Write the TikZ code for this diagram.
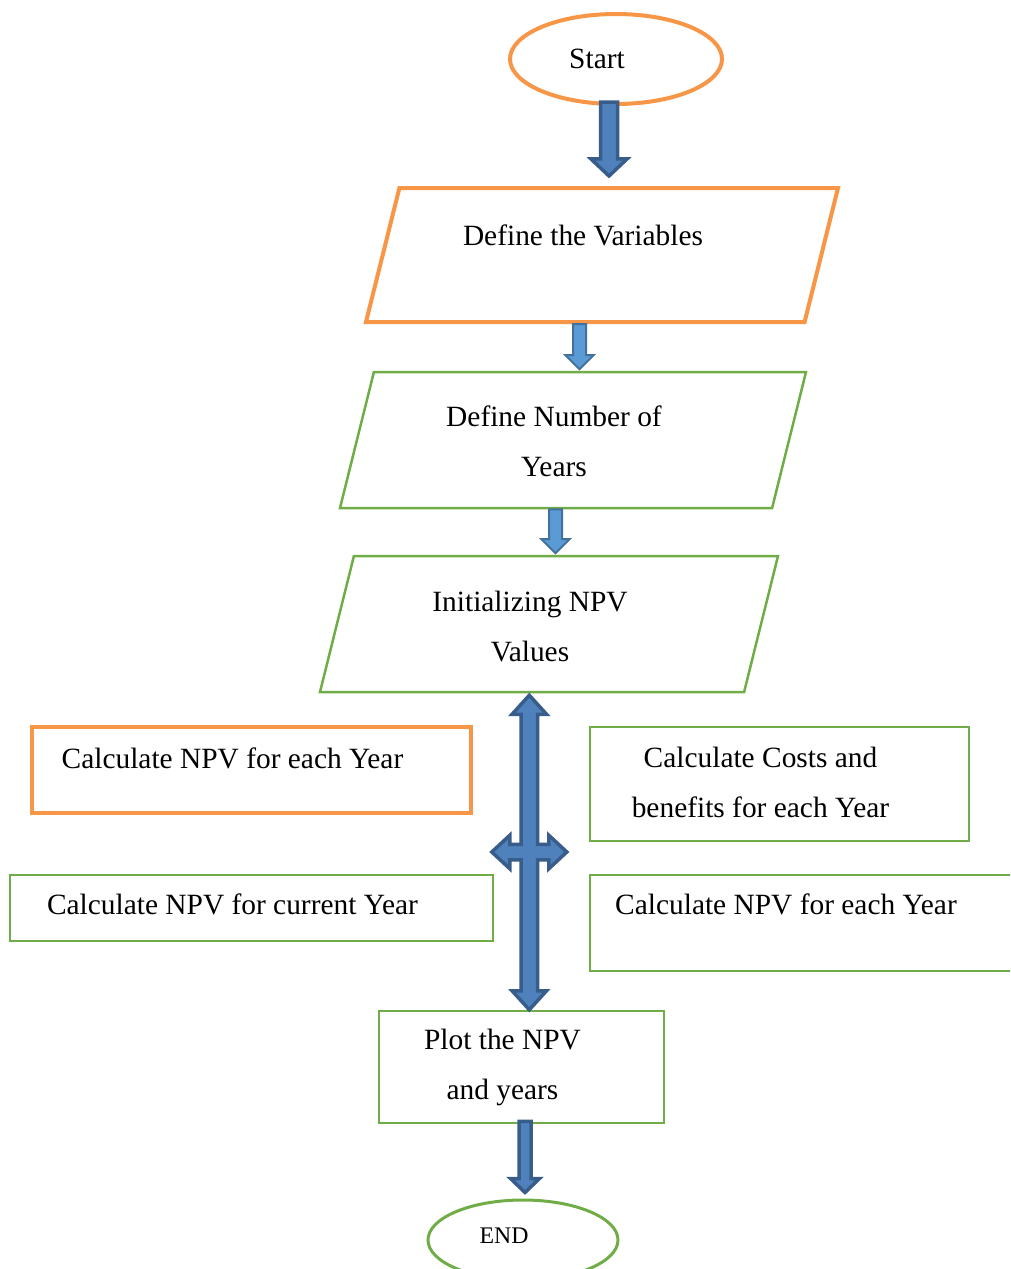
\documentclass[tikz,border=0pt]{standalone}
\usepackage{fontspec}
\setmainfont{Liberation Serif}
\usetikzlibrary{shapes.geometric,calc}

\definecolor{floworange}{HTML}{F79646}
\definecolor{flowgreen}{HTML}{70AD47}
\definecolor{arrdark}{HTML}{385D8A}
\definecolor{arrdarkfill}{HTML}{4F81BD}
\definecolor{arrlight}{HTML}{41719C}
\definecolor{arrlightfill}{HTML}{5B9BD5}

\tikzset{
  orangeline/.style={draw=floworange, line width=4},
  greenline/.style={draw=flowgreen, line width=2.5},
  flowpara/.style={trapezium, trapezium left angle=76, trapezium right angle=104},
  flowoval/.style={ellipse, inner sep=0},
  flowrect/.style={rectangle, inner sep=0},
  every label/.style={font=\fontsize{29.4}{50}\selectfont, align=center, xshift=-19, inner sep=0},
  blockarrow/.style n args={3}{to path={
    let \p1=(\tikztostart), \p2=(\tikztotarget) in
    (\x1-#1pt,\y1) -- (\x1+#1pt,\y1) -- (\x1+#1pt,\y2+#3pt) -- (\x1+#2pt,\y2+#3pt)
    -- (\x1,\y2) -- (\x1-#2pt,\y2+#3pt) -- (\x1-#1pt,\y2+#3pt) -- cycle}},
  darkarrow/.style={draw=arrdark, fill=arrdarkfill, line width=3.5},
  lightarrow/.style={draw=arrlight, fill=arrlightfill, line width=2},
}

\begin{document}
\begin{tikzpicture}[x=1pt,y=-1pt]
    \useasboundingbox (0,0) rectangle (1010,1269);
    \clip (0,0) rectangle (1010,1269);

    % main column
    \node[flowoval, orangeline, minimum width=212, minimum height=90, label=center:Start] (start) at (616,59) {};
    \node[flowpara, orangeline, inner xsep=202.6, inner ysep=67,
      label={[yshift=20]center:Define the Variables}] (vars) at (602,255) {};
    \node[flowpara, greenline, inner xsep=199.1, inner ysep=68,
      label={[yshift=-1]center:Define Number of\\Years}] (years) at (573,440) {};
    \node[flowpara, greenline, inner xsep=195.1, inner ysep=68,
      label={[yshift=-3]center:Initializing NPV\\Values}] (init) at (549,624) {};

    % side boxes
    \node[flowrect, orangeline, minimum width=439, minimum height=86,
      label={[yshift=12]center:Calculate NPV for each Year}] (npveach) at (251.5,770) {};
    \node[flowrect, greenline, minimum width=379, minimum height=114,
      label={[yshift=2]center:Calculate Costs and\\benefits for each Year}] (costs) at (779.5,784) {};
    \node[flowrect, greenline, minimum width=483, minimum height=66,
      label={[yshift=4]center:Calculate NPV for current Year}] (npvcur) at (251.5,908) {};
    \node[flowrect, greenline, minimum width=430, minimum height=96,
      label={[yshift=19]center:Calculate NPV for each Year}] (npvyear) at (805,923) {};

    \node[flowrect, greenline, minimum width=285, minimum height=112,
      label={center:Plot the NPV\\and years}] (plot) at (521.5,1067) {};
    \node[flowoval, draw=flowgreen, line width=3, minimum width=190, minimum height=80,
      label={[yshift=4, font=\fontsize{23.8}{28}\selectfont]center:END}] (end) at (523,1240) {};

    % block arrows
    \draw[darkarrow, blockarrow={8.5}{18}{17}] ([shift={(-7,-4)}]start.south) to ([yshift=10]vars.north);
    \draw[lightarrow, blockarrow={6.5}{14}{14}] ([xshift=-22.5]vars.south) to ([yshift=1.5]years.north);
    \draw[lightarrow, blockarrow={6.5}{14}{14}] ([xshift=-17.5]years.south) to ([yshift=1.5]init.north);
    \draw[darkarrow, blockarrow={6}{14.5}{14}] ([shift={(3.5,-3)}]plot.south) to ([yshift=6]end.north);

    % four way arrow
    \coordinate (hub) at (529.3,852);
    \path (hub |- init.south) ++(0,2) coordinate (qtop);
    \path (hub |- plot.north) ++(0,0) coordinate (qbot);
    \draw[darkarrow] (qtop) -- ($(qtop)+(17.25,19)$) -- ($(qtop)+(8.25,19)$)
      -- ($(hub)+(8.25,-7.75)$) -- ($(hub)+(19.5,-7.75)$) -- ($(hub)+(19.5,-16.75)$)
      -- ($(hub)+(37.5,0)$)
      -- ($(hub)+(19.5,16.75)$) -- ($(hub)+(19.5,7.75)$) -- ($(hub)+(8.25,7.75)$)
      -- ($(qbot)+(8.25,-19)$) -- ($(qbot)+(17.25,-19)$) -- (qbot)
      -- ($(qbot)+(-17.25,-19)$) -- ($(qbot)+(-8.25,-19)$)
      -- ($(hub)+(-8.25,7.75)$) -- ($(hub)+(-19.5,7.75)$) -- ($(hub)+(-19.5,16.75)$)
      -- ($(hub)+(-37.5,0)$)
      -- ($(hub)+(-19.5,-16.75)$) -- ($(hub)+(-19.5,-7.75)$) -- ($(hub)+(-8.25,-7.75)$)
      -- ($(qtop)+(-8.25,19)$) -- ($(qtop)+(-17.25,19)$) -- cycle;
\end{tikzpicture}
\end{document}
